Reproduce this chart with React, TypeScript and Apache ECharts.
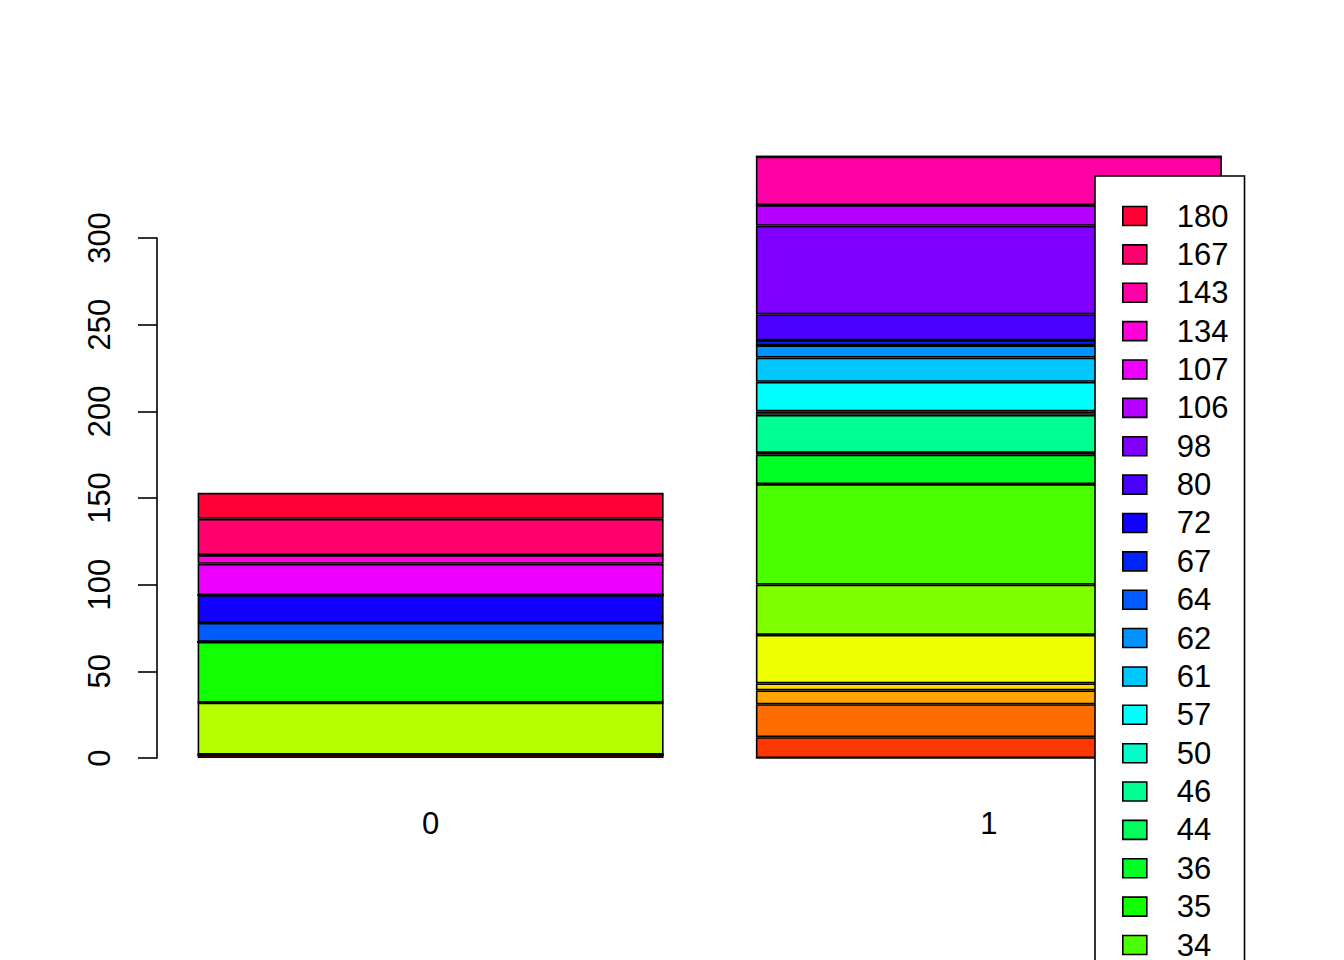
import React, { useEffect, useRef } from "react";
import * as echarts from "echarts";

const groups = ["0", "1"];
const levels = [
  "4", "10", "13", "16", "20", "23", "27", "31", "34", "35", "36", "44", "46", "50",
  "57", "61", "62", "64", "67", "72", "80", "98", "106", "107", "134", "143", "167", "180",
];
const countsGroup0 = [2, 0, 0, 0, 0, 0, 30, 0, 0, 35, 0, 0, 0, 0, 0, 0, 0, 11, 0, 16, 0, 0, 0, 18, 5, 0, 21, 15];
const countsGroup1 = [0, 12, 19, 8, 4, 28, 0, 29, 58, 0, 17, 1, 22, 2, 17, 14, 7, 0, 3, 0, 15, 51, 12, 0, 0, 28, 0, 0];
const yTicks = { min: 0, max: 300, interval: 50 };

// R's rainbow(n): hsv(h = i/n, s = 1, v = 1)
function rainbow(n: number): string[] {
  const out: string[] = [];
  for (let i = 0; i < n; i++) {
    const h = (i / n) * 6;
    const k = Math.floor(h);
    const f = h - k;
    let r = 0, g = 0, b = 0;
    switch (k % 6) {
      case 0: r = 1; g = f; b = 0; break;
      case 1: r = 1 - f; g = 1; b = 0; break;
      case 2: r = 0; g = 1; b = f; break;
      case 3: r = 0; g = 1 - f; b = 1; break;
      case 4: r = f; g = 0; b = 1; break;
      default: r = 1; g = 0; b = 1 - f; break;
    }
    const hx = (v: number) => Math.round(v * 255).toString(16).padStart(2, "0").toUpperCase();
    out.push("#" + hx(r) + hx(g) + hx(b));
  }
  return out;
}

const FONT = "'Liberation Sans', Arial, Helvetica, sans-serif";
const FS = 31;

export default function App() {
  const ref = useRef<HTMLDivElement>(null);
  useEffect(() => {
    if (!ref.current) return;
    const chart = echarts.init(ref.current, undefined, { renderer: "svg" });
    const colors = rainbow(levels.length);
    const series = levels.map((lv, i) => ({
      name: lv,
      type: "bar",
      stack: "total",
      barWidth: 466,
      clip: false,
      data: [countsGroup0[i], countsGroup1[i]],
      itemStyle: { color: colors[i], borderColor: "#000", borderWidth: 1.6 },
      emphasis: { disabled: true },
    }));
    chart.setOption({
      animation: false,
      backgroundColor: "#fff",
      textStyle: { fontFamily: FONT },
      grid: { left: 151.5, right: 76, top: 238, bottom: 202, containLabel: false },
      xAxis: {
        type: "category",
        data: groups,
        axisLine: { show: false },
        axisTick: { show: false },
        axisLabel: { fontSize: FS, color: "#000", fontFamily: FONT, margin: 50 },
      },
      yAxis: {
        type: "value",
        min: yTicks.min,
        max: yTicks.max,
        interval: yTicks.interval,
        offset: -5.5,
        axisLine: { show: true, lineStyle: { color: "#000", width: 1.6 } },
        axisTick: { show: true, length: 19, lineStyle: { color: "#000", width: 1.6 } },
        splitLine: { show: false },
        axisLabel: { fontSize: FS, color: "#000", fontFamily: FONT, rotate: 90, margin: 42 },
      },
      legend: {
        data: levels.slice().reverse(),
        orient: "vertical",
        left: 1095,
        top: 176,
        height: 1400,
        padding: [24.5, 16, 10, 27],
        itemWidth: 24,
        itemHeight: 19,
        itemGap: 7.37,
        icon: "rect",
        backgroundColor: "#fff",
        borderColor: "#000",
        borderWidth: 1.6,
        itemStyle: { borderColor: "#000", borderWidth: 1.6 },
        textStyle: { fontSize: FS, color: "#000", fontFamily: FONT, lineHeight: 31, padding: [0, 0, 0, 25] },
        selectedMode: false,
      },
      series,
    });
    return () => chart.dispose();
  }, []);
  return (
    <div
      ref={ref}
      style={{ position: "fixed", left: 0, top: 0, width: 1344, height: 960, background: "#fff" }}
    />
  );
}
